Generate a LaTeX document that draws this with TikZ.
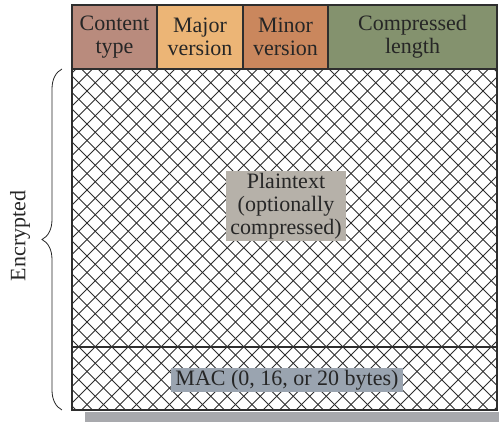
\documentclass[tikz,border=0pt]{standalone}
\usepackage{fontspec}
\setmainfont{Liberation Serif}
\usepackage{xcolor}
\usetikzlibrary{positioning, decorations.pathreplacing}
\definecolor{edge}{HTML}{2E2E2E}
\definecolor{ink}{HTML}{262626}
\definecolor{ctypefill}{RGB}{185,139,125}
\definecolor{majorfill}{RGB}{236,181,118}
\definecolor{minorfill}{RGB}{202,135,93}
\definecolor{lenfill}{RGB}{132,146,110}
\definecolor{plainfill}{RGB}{182,177,169}
\definecolor{macfill}{RGB}{154,164,176}
\definecolor{shadowgray}{RGB}{168,169,173}

\begin{document}
\begin{tikzpicture}[
  x=1pt, y=-1pt,
  every node/.style={align=center, font=\fontsize{22}{23}\selectfont, text=ink},
  field/.style={
    rectangle, draw=edge, line width=1.2pt, minimum height=64pt,
    inner sep=0pt, outer sep=0pt
  },
  area/.style={
    rectangle, draw=edge, line width=1.2pt, minimum width=425pt,
    inner sep=0pt, outer sep=0pt
  },
  hatch/.style={line width=0.9pt, draw=edge},
  tag/.style={inner xsep=4pt, inner ysep=2pt},
]
\useasboundingbox (0,0) rectangle (499,422);
\fill[shadowgray] (85,412) rectangle (499,422);
\node[field, fill=ctypefill, minimum width=85pt] (ctype) at (114.5,37) {Content\\type};
\node[field, fill=majorfill, minimum width=86pt, right=0pt of ctype] (major) {Major\\version};
\node[field, fill=minorfill, minimum width=85pt, right=0pt of major] (minor) {Minor\\version};
\node[field, fill=lenfill, minimum width=169pt, right=0pt of minor] (clen) {Compressed\\length};
\node[area, minimum height=278pt, anchor=north west] (plain) at (ctype.south west) {};
\node[area, minimum height=63pt, below=0pt of plain] (mac) {};
\begin{scope}
  \clip (plain.north west) rectangle (mac.south east);
  \foreach \k in {-364,-347.5,...,510} {
    \draw[hatch] (\k,69) -- ++(341,341);
    \draw[hatch] (\k,410) -- ++(341,-341);
  }
\end{scope}
\node[tag, fill=plainfill] (ptext) at (286,206) {Plaintext\\(optionally\\compressed)};
\node[tag, fill=macfill] (mactext) at (287,380) {MAC (0, 16, or 20 bytes)};
\coordinate (btop) at (62,69);
\coordinate (bbot) at (62,410);
\draw[line width=0.8pt, draw=ink, decorate, decoration={brace, amplitude=20pt}] (bbot) -- (btop);
\node[rotate=90] (enc) at (20,236) {Encrypted};
\end{tikzpicture}
\end{document}
